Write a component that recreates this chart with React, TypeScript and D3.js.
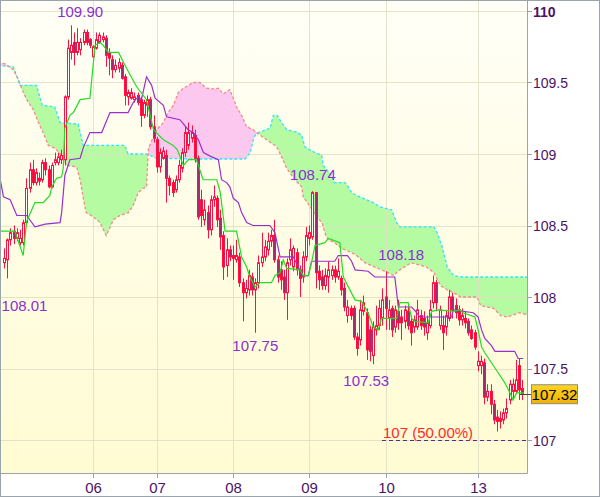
import React from 'react';
import * as d3 from 'd3';

// ---------- data (hourly candles, index 0..163) ----------
const opens = [
  108.24,108.26,108.40,108.46,108.41,108.38,108.38,108.52,108.76,108.89,
  108.80,108.83,108.82,108.94,108.89,108.77,108.94,108.94,108.96,108.96,
  109.40,109.71,109.78,109.71,109.73,109.78,109.85,109.80,109.68,109.74,
  109.78,109.80,109.81,109.71,109.66,109.59,109.60,109.62,109.54,109.40,
  109.39,109.38,109.41,109.38,109.27,109.34,109.38,109.19,109.10,108.91,
  108.97,108.99,108.83,108.80,108.75,108.82,108.90,109.01,109.06,109.11,
  109.13,108.97,108.68,108.54,108.59,108.47,108.68,108.69,108.55,108.43,
  108.22,108.33,108.27,108.26,108.28,108.10,108.03,108.05,108.14,108.05,
  108.10,108.24,108.28,108.33,108.39,108.43,108.26,108.19,108.14,108.03,
  108.26,108.21,108.31,108.19,108.14,108.28,108.41,108.42,108.73,108.18,
  108.14,108.08,108.14,108.15,108.19,108.14,108.13,108.06,107.87,107.92,
  107.92,107.72,107.70,107.90,107.89,107.77,107.59,107.77,107.80,107.85,
  108.00,107.85,107.92,107.79,107.90,107.86,107.83,107.90,107.83,107.79,
  107.79,107.87,107.85,107.75,107.80,107.96,108.10,107.80,107.80,107.79,
  107.85,108.00,107.94,107.91,107.84,107.85,107.83,107.77,107.75,107.52,
  107.52,107.54,107.30,107.34,107.25,107.16,107.13,107.14,107.19,107.28,
  107.34,107.34,107.52,107.36,
];
const highs = [
  108.34,108.41,108.48,108.50,108.48,108.47,108.54,108.83,108.94,108.96,
  108.90,108.87,108.96,108.97,108.92,108.94,109.01,109.01,109.03,109.41,
  109.80,109.90,109.85,109.88,109.81,109.87,109.87,109.81,109.76,109.85,
  109.85,109.85,109.83,109.74,109.69,109.66,109.67,109.64,109.56,109.45,
  109.46,109.43,109.43,109.40,109.38,109.41,109.40,109.27,109.12,109.04,
  109.05,109.03,108.85,108.82,108.85,108.96,109.04,109.19,109.22,109.20,
  109.17,108.99,108.75,108.68,108.64,108.71,108.78,108.71,108.61,108.46,
  108.41,108.36,108.36,108.40,108.31,108.13,108.12,108.19,108.17,108.13,
  108.29,108.45,108.40,108.45,108.47,108.54,108.29,108.25,108.19,108.27,
  108.41,108.36,108.34,108.22,108.32,108.49,108.50,108.74,108.73,108.22,
  108.19,108.20,108.25,108.22,108.22,108.27,108.15,108.10,107.98,107.94,
  107.94,107.75,107.98,108.01,107.92,107.80,107.83,107.94,107.98,108.06,
  108.18,107.98,107.94,107.94,107.98,107.91,107.94,107.94,107.87,107.87,
  107.98,107.91,107.90,107.87,107.98,108.15,108.12,107.94,107.87,107.91,
  108.05,108.03,107.99,107.94,107.92,107.90,107.85,107.80,107.77,107.62,
  107.59,107.57,107.39,107.39,107.28,107.21,107.20,107.22,107.29,107.42,
  107.43,107.56,107.57,107.42,
];
const lows = [
  108.20,108.13,108.36,108.37,108.39,108.36,108.36,108.50,108.73,108.78,
  108.78,108.78,108.80,108.85,108.76,108.76,108.92,108.92,108.93,108.92,
  109.38,109.66,109.62,109.69,109.69,109.76,109.76,109.74,109.67,109.73,
  109.77,109.78,109.61,109.55,109.53,109.57,109.57,109.52,109.34,109.34,
  109.38,109.36,109.34,109.19,109.25,109.26,109.17,109.08,108.87,108.87,
  108.96,108.66,108.71,108.70,108.73,108.80,108.87,108.98,109.03,109.08,
  108.94,108.54,108.49,108.50,108.41,108.43,108.63,108.49,108.33,108.12,
  108.14,108.25,108.12,108.24,108.07,107.83,107.99,108.01,108.01,107.75,
  108.06,108.21,108.25,108.29,108.35,108.24,108.10,108.05,107.98,107.84,
  108.22,108.18,108.15,108.00,108.10,108.25,108.36,108.40,108.06,108.05,
  108.05,108.05,108.03,108.12,108.10,108.12,108.01,107.90,107.82,107.84,
  107.70,107.59,107.66,107.87,107.56,107.55,107.53,107.73,107.77,107.80,
  107.77,107.77,107.72,107.75,107.77,107.70,107.78,107.77,107.66,107.75,
  107.77,107.77,107.73,107.70,107.78,107.92,107.90,107.77,107.63,107.73,
  107.83,107.85,107.85,107.80,107.80,107.78,107.73,107.70,107.63,107.48,
  107.46,107.25,107.27,107.18,107.11,107.06,107.08,107.11,107.15,107.25,
  107.29,107.32,107.28,107.28,
];
const closes = [
  108.27,108.40,108.45,108.41,108.45,108.41,108.52,108.76,108.89,108.80,
  108.87,108.81,108.94,108.89,108.77,108.92,108.96,108.98,108.99,109.40,
  109.74,109.76,109.71,109.78,109.78,109.85,109.78,109.76,109.75,109.80,
  109.83,109.82,109.69,109.67,109.59,109.62,109.64,109.53,109.41,109.43,
  109.43,109.40,109.36,109.27,109.36,109.38,109.19,109.11,108.91,109.01,
  109.02,108.83,108.78,108.73,108.82,108.92,109.01,109.15,109.15,109.15,
  108.97,108.56,108.57,108.61,108.47,108.68,108.70,108.54,108.42,108.21,
  108.33,108.28,108.29,108.29,108.10,108.03,108.06,108.15,108.05,108.10,
  108.24,108.28,108.35,108.39,108.43,108.26,108.14,108.12,108.03,108.24,
  108.33,108.34,108.19,108.13,108.28,108.43,108.45,108.73,108.17,108.12,
  108.08,108.15,108.19,108.19,108.14,108.18,108.05,107.93,107.93,107.87,
  107.72,107.64,107.91,107.96,107.63,107.62,107.79,107.80,107.92,107.98,
  107.92,107.91,107.77,107.91,107.82,107.82,107.91,107.80,107.75,107.84,
  107.91,107.80,107.79,107.82,107.91,108.10,107.96,107.91,107.75,107.87,
  108.00,107.91,107.89,107.84,107.87,107.82,107.75,107.71,107.65,107.55,
  107.55,107.30,107.34,107.25,107.14,107.13,107.15,107.19,107.22,107.39,
  107.39,107.42,107.35,107.32,
];

// Ichimoku lines: [candle index, price]
const tenkan: [number, number][] = [
  [-1.3,108.46],[3.4,108.46],[4,108.42],[6,108.29],[7.1,108.53],[9.7,108.66],[12.3,108.66],
  [14.4,108.71],[15,108.77],[16.5,108.83],[18.1,108.84],[18.6,108.90],[19.1,109.18],[20.7,109.27],
  [21.8,109.29],[23.9,109.38],[27,109.39],[28.6,109.76],[30.2,109.78],[31.2,109.76],[32.8,109.71],
  [36,109.71],[38.5,109.60],[41.7,109.47],[44.8,109.38],[47,109.17],[50.1,109.10],[53.2,109.06],
  [54.5,109.03],[56.4,108.92],[58,108.96],[60.5,108.96],[62.6,108.82],[66.9,108.82],[68,108.73],
  [69.5,108.46],[73.1,108.46],[74.7,108.28],[76.3,108.21],[77.3,108.14],[78.9,108.07],[80.5,108.10],
  [84.1,108.10],[85.2,108.15],[86.8,108.17],[87.8,108.26],[88.9,108.20],[93.1,108.19],[94.1,108.15],
  [95.7,108.15],[96.7,108.24],[97.8,108.36],[100.9,108.38],[102,108.41],[105.6,108.38],[106.7,108.14],
  [108.3,108.07],[110.4,107.98],[112.4,107.97],[114.5,107.89],[116.1,107.79],[117.7,107.77],
  [118.7,107.85],[123.5,107.85],[124.5,107.96],[127.1,107.96],[128.2,107.85],[129.2,107.83],
  [133.4,107.82],[134.5,107.90],[136.6,107.91],[141.3,107.90],[143.4,107.91],[144.4,107.89],
  [148.1,107.86],[149.1,107.77],[150.2,107.65],[151.2,107.61],[153.3,107.54],[155.4,107.47],
  [157.5,107.40],[159.1,107.33],[160.1,107.28],[161.2,107.33],[163.5,107.33],
];
const kijun: [number, number][] = [
  [-1.3,108.83],[-0.2,108.70],[1.9,108.68],[4,108.57],[7.1,108.57],[9.7,108.49],[12.9,108.51],
  [17.6,108.52],[18.1,108.59],[19.1,108.85],[20.7,108.96],[23.9,108.97],[25,109.05],[27,109.15],
  [30.7,109.15],[33.3,109.29],[39,109.29],[40.6,109.36],[41.7,109.39],[43.3,109.39],[44.8,109.54],
  [46.4,109.48],[47.5,109.39],[50.1,109.34],[51.1,109.26],[55.3,109.24],[57.9,109.17],[59.5,109.15],
  [61.1,109.10],[62.7,109.01],[65.3,108.98],[67.4,108.96],[68.4,108.82],[70,108.80],[71,108.77],
  [72.1,108.69],[73.7,108.66],[74.7,108.59],[76.3,108.52],[78.3,108.50],[83.6,108.50],[85.2,108.45],
  [86.8,108.28],[91,108.28],[92.5,108.21],[94.1,108.15],[95.7,108.15],[96.7,108.25],[104,108.25],
  [105.1,108.29],[108,108.29],[109.3,108.25],[110.4,108.19],[114.5,108.18],[116.6,108.14],
  [122.9,108.14],[124,107.93],[128.2,107.93],[129.8,107.89],[130.8,107.86],[140.8,107.86],
  [141.3,107.91],[147.6,107.89],[149.1,107.86],[150.2,107.77],[151.2,107.71],[153.3,107.66],
  [154.4,107.62],[160.6,107.62],[161.7,107.57],[163.3,107.57],
];
const spanA: [number, number][] = [
  [-2,109.62],[2.9,109.61],[5,109.48],[10.2,109.48],[12,109.34],[15.9,109.33],[17.6,109.22],
  [23.3,109.21],[24.9,109.06],[38,109.06],[39,109.00],[44.8,109.00],[48,108.97],[61.6,108.965],
  [75.8,108.965],[77.4,109.01],[78.4,109.10],[78.9,109.13],[80,109.15],[83.6,109.18],[84.7,109.27],
  [85.9,109.27],[87.3,109.22],[88.9,109.17],[92.5,109.15],[93.6,109.13],[94.6,109.05],[96,109.03],
  [99.9,108.99],[100.4,108.92],[103,108.85],[104,108.80],[107.2,108.80],[108.3,108.77],[109.3,108.73],
  [110.9,108.71],[114,108.68],[116.1,108.66],[118.2,108.63],[121.9,108.61],[123.5,108.52],
  [124.5,108.49],[135.2,108.49],[136.2,108.45],[137.8,108.35],[139.4,108.21],[141.4,108.15],
  [144.1,108.14],[166,108.14],
];
const spanB: [number, number][] = [
  [-2,109.64],[0.3,109.63],[2.9,109.59],[4.5,109.52],[5.5,109.46],[7.1,109.38],[9.2,109.31],
  [10.8,109.22],[12.3,109.15],[13.9,109.06],[16,109.04],[18.1,108.99],[19.7,108.92],[22.8,108.91],
  [23.9,108.82],[25,108.68],[25.8,108.59],[28.1,108.56],[30.2,108.52],[32.1,108.43],[34.4,108.54],
  [36.4,108.57],[39.1,108.59],[40.6,108.64],[42.2,108.73],[43.8,108.76],[44.8,108.77],[45.4,109.04],
  [48,109.17],[50.1,109.22],[51.6,109.29],[53.2,109.34],[54.8,109.43],[56.4,109.46],[59.5,109.50],
  [61.6,109.50],[63.7,109.46],[65.8,109.455],[67.4,109.46],[68.9,109.42],[71,109.45],[72.1,109.39],
  [73.1,109.33],[74.7,109.27],[76.3,109.19],[78.4,109.17],[80,109.14],[82.6,109.10],[85.8,109.05],
  [87.3,108.98],[88.9,108.90],[91.5,108.82],[93.6,108.77],[94.1,108.70],[96,108.64],[98,108.57],
  [100,108.52],[101.2,108.43],[102,108.40],[104,108.38],[106.2,108.34],[108.3,108.32],[110.3,108.30],
  [113.5,108.24],[118.7,108.19],[120.8,108.17],[122.4,108.15],[124.5,108.19],[128,108.24],
  [132.9,108.21],[135.2,108.17],[137.3,108.08],[139.4,108.05],[141.4,108.03],[143.6,108.00],
  [148.8,108.00],[149.9,107.94],[152,107.93],[154,107.92],[156.2,107.87],[158.3,107.86],
  [162,107.89],[166,107.87],
];

const yTickValues = [107, 107.5, 108, 108.5, 109, 109.5, 110];
const yTickLabels = ['107', '107.5', '108', '108.5', '109', '109.5', '110'];
const xTickIndex = [28, 48, 72, 96, 120, 149];
const xTickLabels = ['06', '07', '08', '09', '10', '13'];

// high / low annotations: text, candle index anchor (left edge), price baseline
const extremeLabels: { text: string; i: number; p: number }[] = [
  { text: '109.90', i: 16.7, p: 109.96 },
  { text: '108.01', i: -0.8, p: 107.90 },
  { text: '107.75', i: 71.8, p: 107.62 },
  { text: '108.74', i: 89.9, p: 108.82 },
  { text: '108.18', i: 117.7, p: 108.26 },
  { text: '107.53', i: 106.7, p: 107.38 },
];
const lastPrice = 107.32;
const halfLevel = 107;
const halfLabel = '107 (50.00%)';

const FONT = '"Liberation Sans", Arial, sans-serif';
const RED = '#ff1040';
const DOWN = '#9c2c74';
const AXIS = '#9aa4ac';
const GRID = '#e2e0c4';
const TXT = '#4b1268';
const LBL = '#8a2fd0';

export default function App() {
  const P = { left: 1, top: 1, right: 527, bottom: 473 };
  const x = d3.scaleLinear().domain([0, 163]).range([4.1, 522.3]);
  const y = d3.scaleLinear().domain([107, 110]).range([440, 11]);

  const line = d3.line<[number, number]>().x(d => x(d[0])).y(d => y(d[1]));
  const below = d3.area<[number, number]>().x(d => x(d[0])).y0(d => y(d[1])).y1(P.bottom);
  const above = d3.area<[number, number]>().x(d => x(d[0])).y0(P.top).y1(d => y(d[1]));

  const candles = opens.map((o, i) => ({ i, o, h: highs[i], l: lows[i], c: closes[i] }));

  return (
    <svg width={600} height={497} style={{ position: 'absolute', left: 0, top: 0 }}
      fontFamily={FONT}>
      <defs>
        <linearGradient id="bg" x1="0" y1="0" x2="0" y2="1">
          <stop offset="0" stopColor="#fffff7" />
          <stop offset="1" stopColor="#fffbd2" />
        </linearGradient>
        <linearGradient id="gold" x1="0" y1="0" x2="0" y2="1">
          <stop offset="0" stopColor="#ffd624" />
          <stop offset="1" stopColor="#f0b000" />
        </linearGradient>
        <clipPath id="plotClip">
          <rect x={P.left} y={P.top} width={P.right - P.left} height={P.bottom - P.top} />
        </clipPath>
        <clipPath id="belowA"><path d={below(spanA) || ''} /></clipPath>
        <clipPath id="belowB"><path d={below(spanB) || ''} /></clipPath>
      </defs>
      <rect x={0} y={0} width={600} height={497} fill="#ffffff" />
      <rect x={P.left} y={P.top} width={P.right - P.left} height={P.bottom - P.top} fill="url(#bg)" />

      <g clipPath="url(#plotClip)">
        {/* cloud */}
        <g clipPath="url(#belowA)">
          <path d={above(spanB) || ''} fill="#b4fba2" />
        </g>
        <g clipPath="url(#belowB)">
          <path d={above(spanA) || ''} fill="#fcc8f0" />
        </g>
        {/* grid */}
        {yTickValues.map(v => (
          <line key={'gy' + v} x1={P.left} x2={P.right} y1={Math.round(y(v)) + 0.5} y2={Math.round(y(v)) + 0.5}
            stroke={GRID} strokeOpacity={0.9} />
        ))}
        {xTickIndex.map(i => (
          <line key={'gx' + i} x1={Math.round(x(i)) + 0.5} x2={Math.round(x(i)) + 0.5} y1={P.top} y2={P.bottom}
            stroke={GRID} strokeOpacity={0.9} />
        ))}
        <path d={line(spanA) || ''} fill="none" stroke="#30e4ff" strokeWidth={1.3} strokeDasharray="3,2" />
        <path d={line(spanB) || ''} fill="none" stroke="#f58a8a" strokeWidth={1.3} strokeDasharray="3,2" />

        {/* candles */}
        {candles.map(d => {
          const c = Math.round(x(d.i));
          const up = d.c >= d.o;
          const yt = y(Math.max(d.o, d.c));
          const yb = y(Math.min(d.o, d.c));
          return (
            <g key={d.i}>
              <line x1={c + 0.5} x2={c + 0.5} y1={y(d.h)} y2={y(d.l)} stroke={RED} strokeWidth={1} />
              <rect x={c - 0.5} y={yt} width={2} height={Math.max(yb - yt, 1)}
                fill={up ? '#ffffff' : DOWN} stroke={RED} strokeWidth={1} />
            </g>
          );
        })}

        {/* ichimoku lines */}
        <path d={line(kijun) || ''} fill="none" stroke="#9a2fd0" strokeWidth={1.2} />
        <path d={line(tenkan) || ''} fill="none" stroke="#22dd22" strokeWidth={1.2} />

        {/* 50% level */}
        <line x1={382} x2={P.right} y1={y(halfLevel) + 0.5} y2={y(halfLevel) + 0.5}
          stroke="#5a2a8a" strokeDasharray="4,3" strokeWidth={1} />
      </g>

      {/* frame */}
      <line x1={P.left - 0.5} x2={P.left - 0.5} y1={0} y2={P.bottom} stroke={AXIS} />
      <line x1={0} x2={P.right} y1={0.5} y2={0.5} stroke={AXIS} />
      <line x1={P.right + 0.5} x2={P.right + 0.5} y1={0} y2={P.bottom + 0.5} stroke={AXIS} />
      <line x1={0} x2={P.right + 0.5} y1={P.bottom + 0.5} y2={P.bottom + 0.5} stroke={AXIS} />
      <rect x={0.5} y={0.5} width={599} height={496} fill="none" stroke={AXIS} />

      {/* y axis */}
      {yTickValues.map((v, k) => (
        <g key={'yt' + v}>
          <line x1={P.right} x2={P.right + 5} y1={Math.round(y(v)) + 0.5} y2={Math.round(y(v)) + 0.5} stroke={AXIS} />
          <text x={533} y={y(v) + 5.5} fontSize={14} fill={TXT} fontWeight={v === 110 ? 'bold' : 'normal'}>
            {yTickLabels[k]}
          </text>
        </g>
      ))}
      {/* x axis */}
      {xTickIndex.map((i, k) => (
        <g key={'xt' + i}>
          <line x1={Math.round(x(i)) + 0.5} x2={Math.round(x(i)) + 0.5} y1={P.bottom} y2={P.bottom + 5} stroke={AXIS} />
          <text x={Math.round(x(i)) + 0.5} y={493} fontSize={15} fill={TXT} textAnchor="middle">
            {xTickLabels[k]}
          </text>
        </g>
      ))}

      {/* labels */}
      {extremeLabels.map(l => (
        <text key={l.text} x={x(l.i)} y={y(l.p)} fontSize={15} fill={LBL}>{l.text}</text>
      ))}
      <text x={383} y={y(halfLevel) - 2} fontSize={15} fill="#ff2a2a">{halfLabel}</text>

      {/* last price */}
      <line x1={520} x2={531} y1={Math.round(y(lastPrice)) + 0.5} y2={Math.round(y(lastPrice)) + 0.5} stroke="#444" />
      <rect x={531.5} y={y(lastPrice) - 9.5} width={46} height={19} fill="url(#gold)" stroke="#8c8c8c" />
      <text x={554.5} y={y(lastPrice) + 5.5} fontSize={15} fill="#000" textAnchor="middle">{lastPrice.toFixed(2)}</text>
    </svg>
  );
}
